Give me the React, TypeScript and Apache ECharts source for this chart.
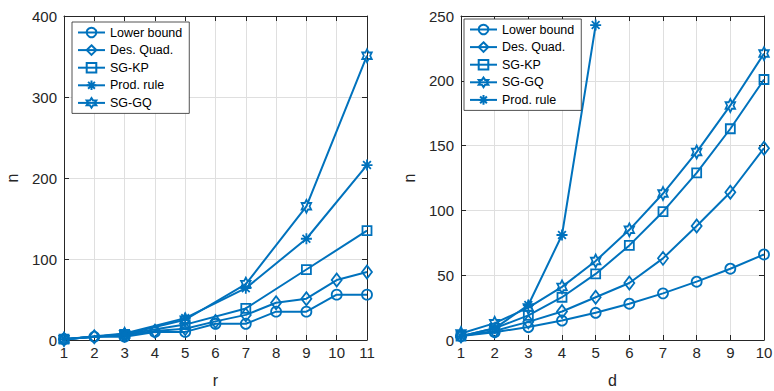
import React, { useEffect, useRef } from "react";
import * as echarts from "echarts";

// ---- data: left panel (d = 3, varying r) ----
const rAll = [1, 2, 3, 4, 5, 6, 7, 8, 9, 10, 11];
const rOdd = [1, 3, 5, 7, 9, 11];
const lowerBoundR = [1, 4, 4, 10, 10, 20, 20, 35, 35, 56, 56];
const desQuadR = [1, 4, 6, 11, 14, 23, 31, 46, 51, 74, 84];
const sgKpR = [1, 7, 19, 39, 87, 135];
const prodRuleR = [1, 8, 27, 64, 125, 216];
const sgGqR = [1, 7, 25, 69, 165, 351];

// ---- data: right panel (varying d) ----
const dAll = [1, 2, 3, 4, 5, 6, 7, 8, 9, 10];
const dProd = [1, 2, 3, 4, 5];
const lowerBoundD = [3, 6, 10, 15, 21, 28, 36, 45, 55, 66];
const desQuadD = [3, 7, 14, 22, 33, 44, 63, 88, 114, 148];
const sgKpD = [3, 9, 19, 33, 51, 73, 99, 129, 163, 201];
const sgGqD = [5, 13, 25, 41, 61, 85, 113, 145, 181, 221];
const prodRuleD = [3, 9, 27, 81, 243];

const legendLeft = ["Lower bound", "Des. Quad.", "SG-KP", "Prod. rule", "SG-GQ"];
const legendRight = ["Lower bound", "Des. Quad.", "SG-KP", "SG-GQ", "Prod. rule"];

const C = "#0072BD";
const AX = "#262626";
const GRIDC = "#dfdfdf";
const FONT = "'Liberation Sans', Arial, Helvetica, sans-serif";

const HEX =
  "path://M0,-1L0.2887,-0.5L0.866,-0.5L0.5774,0L0.866,0.5L0.2887,0.5L0,1L-0.2887,0.5L-0.866,0.5L-0.5774,0L-0.866,-0.5L-0.2887,-0.5Z";
const AST =
  "path://M0,-1L0,1M-1,0L1,0M-0.707,-0.707L0.707,0.707M-0.707,0.707L0.707,-0.707";

const SYM: Record<string, { symbol: string; size: any }> = {
  "Lower bound": { symbol: "circle", size: 10 },
  "Des. Quad.": { symbol: "diamond", size: [10, 13] },
  "SG-KP": { symbol: "rect", size: 9 },
  "Prod. rule": { symbol: AST, size: 11 },
  "SG-GQ": { symbol: HEX, size: [11, 13] },
};

const zip = (xs: number[], ys: number[]) => xs.map((x, i) => [x, ys[i]]);

function mk(name: string, data: number[][], xi: number, yi: number) {
  return {
    type: "line",
    name,
    data,
    xAxisIndex: xi,
    yAxisIndex: yi,
    symbol: SYM[name].symbol,
    symbolSize: SYM[name].size,
    symbolKeepAspect: true,
    showAllSymbol: true,
    clip: true,
    lineStyle: { color: C, width: 2 },
    itemStyle: { color: "rgba(0,0,0,0)", borderColor: C, borderWidth: 1.8 },
    emphasis: { disabled: true },
  };
}

function xAx(gi: number, max: number, name: string, main: boolean) {
  return {
    type: "value",
    gridIndex: gi,
    min: 1,
    max,
    interval: 1,
    position: main ? "bottom" : "top",
    axisLine: { show: true, onZero: false, lineStyle: { color: AX, width: 1 } },
    axisTick: { show: true, inside: true, length: 5, lineStyle: { color: AX, width: 1 } },
    axisLabel: { show: main, color: AX, fontSize: 15, fontFamily: FONT, margin: 5 },
    splitLine: { show: main, lineStyle: { color: GRIDC, width: 1 } },
    name: main ? name : "",
    nameLocation: "middle",
    nameGap: 32,
    nameTextStyle: { color: AX, fontSize: 16, fontFamily: FONT },
  };
}

function yAx(gi: number, max: number, interval: number, main: boolean) {
  return {
    type: "value",
    gridIndex: gi,
    min: 0,
    max,
    interval,
    position: main ? "left" : "right",
    axisLine: { show: true, onZero: false, lineStyle: { color: AX, width: 1 } },
    axisTick: { show: true, inside: true, length: 5, lineStyle: { color: AX, width: 1 } },
    axisLabel: { show: main, color: AX, fontSize: 15, fontFamily: FONT, margin: 7 },
    splitLine: { show: main, lineStyle: { color: GRIDC, width: 1 } },
    name: main ? "n" : "",
    nameLocation: "middle",
    nameGap: 44,
    nameTextStyle: { color: AX, fontSize: 16, fontFamily: FONT },
  };
}

function legend(data: string[], left: number, top: number) {
  return {
    data,
    orient: "vertical",
    left,
    top,
    itemWidth: 27,
    itemHeight: 12,
    itemGap: 4.6,
    padding: [4, 7, 4, 5],
    backgroundColor: "#ffffff",
    borderColor: AX,
    borderWidth: 0.8,
    borderRadius: 0,
    selectedMode: false,
    textStyle: { fontSize: 12.5, color: "#000", fontFamily: FONT },
  };
}

export default function App() {
  const ref = useRef<HTMLDivElement>(null);
  useEffect(() => {
    if (!ref.current) return;
    const chart = echarts.init(ref.current, null, { renderer: "svg" });
    chart.setOption({
      animation: false,
      backgroundColor: "#ffffff",
      grid: [
        { left: 64, right: 407, top: 16, bottom: 51, outerBoundsMode: "none", containLabel: false },
        { left: 461, right: 10, top: 16, bottom: 51, outerBoundsMode: "none", containLabel: false },
      ],
      xAxis: [xAx(0, 11, "r", true), xAx(0, 11, "r", false), xAx(1, 10, "d", true), xAx(1, 10, "d", false)],
      yAxis: [yAx(0, 400, 100, true), yAx(0, 400, 100, false), yAx(1, 250, 50, true), yAx(1, 250, 50, false)],
      legend: [legend(legendLeft, 72, 22), legend(legendRight, 464, 19)],
      series: [
        mk("Lower bound", zip(rAll, lowerBoundR), 0, 0),
        mk("Des. Quad.", zip(rAll, desQuadR), 0, 0),
        mk("SG-KP", zip(rOdd, sgKpR), 0, 0),
        mk("Prod. rule", zip(rOdd, prodRuleR), 0, 0),
        mk("SG-GQ", zip(rOdd, sgGqR), 0, 0),
        mk("Lower bound", zip(dAll, lowerBoundD), 2, 2),
        mk("Des. Quad.", zip(dAll, desQuadD), 2, 2),
        mk("SG-KP", zip(dAll, sgKpD), 2, 2),
        mk("SG-GQ", zip(dAll, sgGqD), 2, 2),
        mk("Prod. rule", zip(dProd, prodRuleD), 2, 2),
      ],
    });
    return () => chart.dispose();
  }, []);
  return (
    <div
      ref={ref}
      style={{ position: "fixed", left: 0, top: 0, width: 774, height: 391, background: "#fff" }}
    />
  );
}
